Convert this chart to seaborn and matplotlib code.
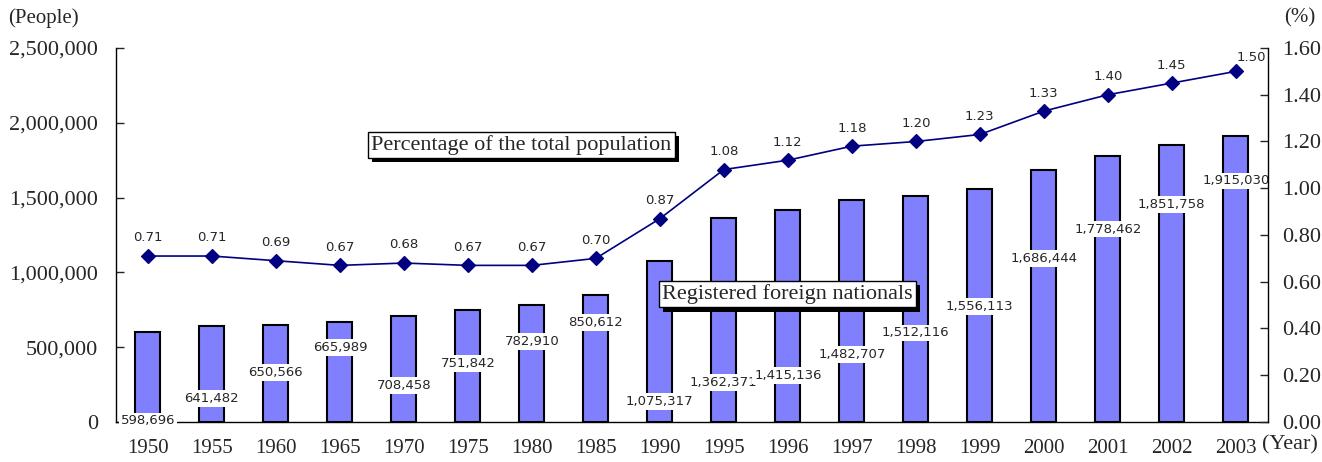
import numpy as np
import pandas as pd
import seaborn as sns
import matplotlib.pyplot as plt
import matplotlib.patheffects as pe
from matplotlib.ticker import FuncFormatter, MultipleLocator

years = ["1950", "1955", "1960", "1965", "1970", "1975", "1980", "1985", "1990",
         "1995", "1996", "1997", "1998", "1999", "2000", "2001", "2002", "2003"]
registered = [598696, 641482, 650566, 665989, 708458, 751842, 782910, 850612, 1075317,
              1362371, 1415136, 1482707, 1512116, 1556113, 1686444, 1778462, 1851758, 1915030]
percentage = [0.71, 0.71, 0.69, 0.67, 0.68, 0.67, 0.67, 0.70, 0.87,
              1.08, 1.12, 1.18, 1.20, 1.23, 1.33, 1.40, 1.45, 1.50]

# where the bar value labels sit (left-axis units), staggered as in the original
label_y = [6700, 160000, 334000, 501000, 241000, 388000, 541000, 668000, 134000,
           267000, 308000, 448000, 595000, 769000, 1090000, 1290000, 1457000, 1611000]

df = pd.DataFrame({"year": years, "registered": registered, "pct": percentage})

sns.set_style("white")
plt.rcParams["font.family"] = ["Liberation Serif", "DejaVu Serif"]

fig = plt.figure(figsize=(13.22, 4.62), dpi=100)
ax = fig.add_axes([0.0877, 0.0866, 0.8713, 0.8095])

sns.barplot(data=df, x="year", y="registered", color="#8080FF", saturation=1,
            width=0.39, edgecolor="black", linewidth=1.5, ax=ax)
ax.set_xlim(-0.5, len(years) - 0.5)
ax.set_ylim(0, 2500000)
ax.yaxis.set_major_locator(MultipleLocator(500000))
ax.yaxis.set_major_formatter(FuncFormatter(lambda v, p: f"{int(v):,}"))
ax.set_xlabel("")
ax.set_ylabel("")

for i, (v, ly) in enumerate(zip(registered, label_y)):
    ax.text(i, ly, f"{v:,}", ha="center", va="center", fontsize=9.5,
            family="DejaVu Sans",
            bbox=dict(boxstyle="square,pad=0.15", fc="white", ec="none"))

ax2 = ax.twinx()
sns.pointplot(data=df, x="year", y="pct", color="#000080", markers="D",
              markersize=7, linewidth=1.2, ax=ax2)
ax2.set_xlim(-0.5, len(years) - 0.5)
ax2.set_ylim(0, 1.6)
ax2.yaxis.set_major_locator(MultipleLocator(0.2))
ax2.yaxis.set_major_formatter(FuncFormatter(lambda v, p: f"{v:.2f}"))
ax2.set_ylabel("")

for i, p in enumerate(percentage):
    off = (11, 10) if i == len(percentage) - 1 else (0, 13)
    ax2.annotate(f"{p:.2f}", (i, p), xytext=off, textcoords="offset points",
                 ha="center", va="center", fontsize=9.5, family="DejaVu Sans")

# axes styling
for a in (ax, ax2):
    a.spines["top"].set_visible(False)
    for s in ("left", "right", "bottom"):
        a.spines[s].set_linewidth(1.0)
        a.spines[s].set_color("black")
ax.spines["right"].set_visible(False)
ax2.spines["left"].set_visible(False)
ax2.spines["bottom"].set_visible(False)

ax.set_xticks(np.arange(len(years)))
ax.set_xticklabels(years)
ax.tick_params(axis="x", which="major", length=0, pad=12, labelsize=15)
ax.set_xticks(np.arange(len(years) + 1) - 0.5, minor=True)
ax.tick_params(axis="x", which="minor", direction="in", length=6, width=1)
ax.tick_params(axis="y", direction="in", length=6, width=1, left=True, labelsize=16, pad=13)
ax2.tick_params(axis="y", direction="in", length=6, width=1, right=True, labelsize=16, pad=10)

# series captions with drop shadow
for txt, xy in [("Percentage of the total population", (0.352, 0.741)),
                ("Registered foreign nationals", (0.583, 0.342))]:
    t = ax2.text(xy[0], xy[1], txt, transform=ax2.transAxes, ha="center", va="center",
                 fontsize=16, zorder=10,
                 bbox=dict(boxstyle="square,pad=0.15", fc="white", ec="black", lw=1))
    t.get_bbox_patch().set_path_effects([
        pe.SimplePatchShadow(offset=(3, -3), shadow_rgbFace="black", alpha=1),
        pe.Normal()])

fig.text(8 / 1322, 1 - 18 / 462, "(People)", ha="left", va="center", fontsize=15)
fig.text(1300 / 1322, 1 - 18 / 462, "(%)", ha="center", va="center", fontsize=15)
fig.text(1290 / 1322, 1 - 445 / 462, "(Year)", ha="center", va="center", fontsize=16)

fig.savefig("out.png", dpi=100)
